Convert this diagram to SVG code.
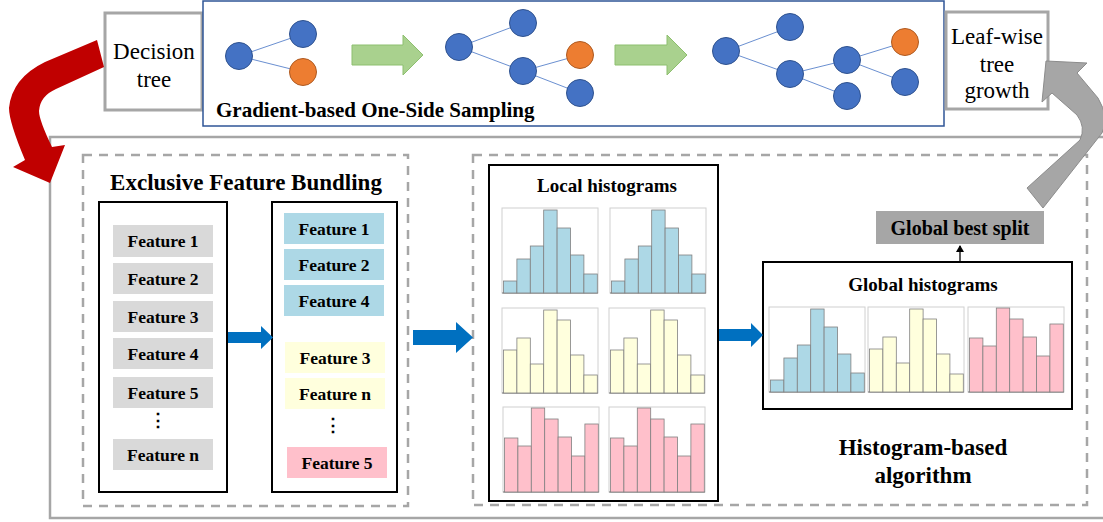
<svg xmlns="http://www.w3.org/2000/svg" xmlns:xlink="http://www.w3.org/1999/xlink" width="1103" height="522" viewBox="0 0 1103 522">
<style>
.serif{font-family:"Liberation Serif","Times New Roman",serif;fill:#000}
.b{font-weight:bold}
.graybox{fill:#fff;stroke:#A6A6A6;stroke-width:3}
.dash{fill:none;stroke:#A6A6A6;stroke-width:2.5;stroke-dasharray:9 7}
.blk{fill:#fff;stroke:#000;stroke-width:2}
.nb{fill:#4472C4;stroke:#2F528F;stroke-width:1}
.no{fill:#ED7D31;stroke:#AE5A21;stroke-width:1}
.edge{stroke:#4472C4;stroke-width:0.8}
.garrow{fill:#A9D18E;stroke:#8DBF6E;stroke-width:1}
.barrow{fill:#0070C0}
.fg{fill:#D9D9D9}
.fb{fill:#ADD8E6}
.fy{fill:#FFFFDD}
.fp{fill:#FFC0CB}
.ft{font-size:17.5px;text-anchor:middle}
.bar{stroke:#808080;stroke-width:0.8}
.pf{fill:#fff;stroke:#D0D0D0;stroke-width:1}
</style>
<defs>
<g id="frame"><rect class="pf" x="0" y="0" width="96" height="85"/><line x1="0" y1="85" x2="96" y2="85" stroke="#808080" stroke-width="1.2"/></g>
<g id="hb">
<use xlink:href="#frame"/>
<g class="bar fb">
<rect x="1.5" y="73" width="13.4" height="12"/><rect x="14.9" y="51" width="13.4" height="34"/><rect x="28.3" y="38" width="13.4" height="47"/><rect x="41.7" y="2" width="13.4" height="83"/><rect x="55.1" y="20" width="13.4" height="65"/><rect x="68.5" y="47" width="13.4" height="38"/><rect x="81.9" y="66" width="13.4" height="19"/>
</g></g>
<g id="hy">
<use xlink:href="#frame"/>
<g class="bar fy">
<rect x="1.5" y="42" width="13.4" height="43"/><rect x="14.9" y="30" width="13.4" height="55"/><rect x="28.3" y="56" width="13.4" height="29"/><rect x="41.7" y="2" width="13.4" height="83"/><rect x="55.1" y="12" width="13.4" height="73"/><rect x="68.5" y="47" width="13.4" height="38"/><rect x="81.9" y="67" width="13.4" height="18"/>
</g></g>
<g id="hp">
<use xlink:href="#frame"/>
<g class="bar fp">
<rect x="1.5" y="31" width="13.4" height="54"/><rect x="14.9" y="39" width="13.4" height="46"/><rect x="28.3" y="1" width="13.4" height="84"/><rect x="41.7" y="12" width="13.4" height="73"/><rect x="55.1" y="30" width="13.4" height="55"/><rect x="68.5" y="49" width="13.4" height="36"/><rect x="81.9" y="17" width="13.4" height="68"/>
</g></g>
<marker id="ah" markerWidth="8" markerHeight="8" refX="6" refY="4" orient="auto" markerUnits="userSpaceOnUse"><path d="M0,0 L7,4 L0,8 Z" fill="#000"/></marker>
</defs>

<rect width="1103" height="522" fill="#fff"/>

<!-- outer frame -->
<rect id="outer-frame" x="50" y="137" width="1080" height="381" fill="none" stroke="#A6A6A6" stroke-width="2.5"/>

<!-- Decision tree -->
<g id="decision-tree">
<rect class="graybox" x="105" y="13" width="97" height="97"/>
<text class="serif" x="154" y="59" font-size="23" text-anchor="middle">Decision</text>
<text class="serif" x="154" y="87" font-size="23" text-anchor="middle">tree</text>
</g>

<!-- GOSS -->
<g id="goss">
<rect x="203" y="1" width="741" height="125" fill="#fff" stroke="#2F5597" stroke-width="1.5"/>
<g class="edge">
<line x1="239" y1="56" x2="303" y2="34"/><line x1="239" y1="56" x2="303" y2="72"/>
<line x1="459" y1="47" x2="523" y2="23"/><line x1="459" y1="47" x2="523" y2="71"/><line x1="523" y1="71" x2="580" y2="55"/><line x1="523" y1="71" x2="580" y2="93"/>
<line x1="726" y1="51" x2="790" y2="27"/><line x1="726" y1="51" x2="790" y2="74"/><line x1="790" y1="74" x2="847" y2="60"/><line x1="790" y1="74" x2="847" y2="96"/><line x1="847" y1="60" x2="905" y2="42"/><line x1="847" y1="60" x2="905" y2="82"/>
</g>
<circle class="nb" cx="239" cy="56" r="13.5"/><circle class="nb" cx="303" cy="34" r="13.5"/><circle class="no" cx="303" cy="72" r="13.5"/>
<circle class="nb" cx="459" cy="47" r="13.5"/><circle class="nb" cx="523" cy="23" r="13.5"/><circle class="nb" cx="523" cy="71" r="13.5"/><circle class="no" cx="580" cy="55" r="13.5"/><circle class="nb" cx="580" cy="93" r="13.5"/>
<circle class="nb" cx="726" cy="51" r="13.5"/><circle class="nb" cx="790" cy="27" r="13.5"/><circle class="nb" cx="790" cy="74" r="13.5"/><circle class="nb" cx="847" cy="60" r="13.5"/><circle class="nb" cx="847" cy="96" r="13.5"/><circle class="no" cx="905" cy="42" r="13.5"/><circle class="nb" cx="905" cy="82" r="13.5"/>
<polygon class="garrow" points="352,45 403,45 403,35 423,55 403,75 403,65 352,65"/>
<polygon class="garrow" points="615,45 667,45 667,35 687,55 667,75 667,65 615,65"/>
<text class="serif b" x="216" y="117" font-size="21">Gradient-based One-Side Sampling</text>
</g>

<!-- Leaf-wise -->
<g id="leaf-wise">
<rect class="graybox" x="946" y="12" width="102" height="97" stroke-width="2.5"/>
<text class="serif" x="997" y="44" font-size="23" text-anchor="middle">Leaf-wise</text>
<text class="serif" x="997" y="72" font-size="23" text-anchor="middle">tree</text>
<text class="serif" x="997" y="98" font-size="23" text-anchor="middle">growth</text>
</g>

<!-- EFB -->
<g id="efb">
<rect class="dash" x="83" y="155" width="325" height="351"/>
<text class="serif b" x="246" y="190" font-size="23" text-anchor="middle">Exclusive Feature Bundling</text>
<rect class="blk" x="99" y="202" width="128" height="290"/>
<rect class="blk" x="272" y="202" width="125" height="290"/>
<rect class="fg" x="113" y="225" width="100" height="32"/><text class="serif b ft" x="163" y="247">Feature 1</text>
<rect class="fg" x="113" y="263" width="100" height="31"/><text class="serif b ft" x="163" y="285">Feature 2</text>
<rect class="fg" x="113" y="301" width="100" height="31"/><text class="serif b ft" x="163" y="323">Feature 3</text>
<rect class="fg" x="113" y="338" width="100" height="31"/><text class="serif b ft" x="163" y="360">Feature 4</text>
<rect class="fg" x="113" y="377" width="100" height="31"/><text class="serif b ft" x="163" y="399">Feature 5</text>
<text class="serif b ft" x="158" y="426">⋮</text>
<rect class="fg" x="113" y="439" width="100" height="31"/><text class="serif b ft" x="163" y="461">Feature n</text>
<rect class="fb" x="284" y="213" width="100" height="31"/><text class="serif b ft" x="334" y="235">Feature 1</text>
<rect class="fb" x="284" y="249" width="100" height="31"/><text class="serif b ft" x="334" y="271">Feature 2</text>
<rect class="fb" x="284" y="285" width="100" height="31"/><text class="serif b ft" x="334" y="307">Feature 4</text>
<rect class="fy" x="285" y="342" width="100" height="31"/><text class="serif b ft" x="335" y="364">Feature 3</text>
<rect class="fy" x="285" y="378" width="100" height="31"/><text class="serif b ft" x="335" y="400">Feature n</text>
<text class="serif b ft" x="333" y="431">⋮</text>
<rect class="fp" x="287" y="447" width="100" height="31"/><text class="serif b ft" x="337" y="469">Feature 5</text>
</g>

<!-- Histogram-based -->
<g id="histogram-based">
<rect class="dash" x="473" y="155" width="614" height="350"/>
<text class="serif b" x="923" y="455" font-size="23" text-anchor="middle">Histogram-based</text>
<text class="serif b" x="923" y="483" font-size="23" text-anchor="middle">algorithm</text>
</g>

<g id="local-histograms">
<rect class="blk" x="489" y="165" width="229" height="336"/>
<text class="serif b" x="607" y="192" font-size="19" text-anchor="middle">Local histograms</text>
<use xlink:href="#hb" x="502" y="208"/>
<use xlink:href="#hb" x="610" y="208"/>
<use xlink:href="#hy" x="502" y="308"/>
<use xlink:href="#hy" x="609" y="308"/>
<use xlink:href="#hp" x="503" y="407"/>
<use xlink:href="#hp" x="609" y="407"/>
</g>

<g id="global-histograms">
<rect class="blk" x="763" y="262" width="309" height="147"/>
<text class="serif b" x="923" y="291" font-size="19" text-anchor="middle">Global histograms</text>
<use xlink:href="#hb" x="769" y="307"/>
<use xlink:href="#hy" x="868" y="307"/>
<use xlink:href="#hp" x="968" y="307"/>
</g>

<g id="global-best-split">
<rect x="876" y="211" width="168" height="33" fill="#A6A6A6"/>
<text class="serif b" x="960" y="235" font-size="20" text-anchor="middle">Global best split</text>
</g>

<!-- connectors -->
<g id="connectors">
<line x1="960" y1="262" x2="960" y2="246" stroke="#000" stroke-width="1.3" marker-end="url(#ah)"/>
<polygon class="barrow" points="228,332 261,332 261,326 273,337.5 261,349 261,343 228,343"/>
<polygon class="barrow" points="413,330 456,330 456,322 473,337.5 456,353 456,345 413,345"/>
<polygon class="barrow" points="719,329 751,329 751,323 763,335 751,347 751,341 719,341"/>
<path d="M97,40 L45,62 Q12,78 9,108 Q9,122 25,160 L13,167 L50,183 L65,145 L52,147 Q39,120 39,111 Q40,96 56,89 L104,67 Z" fill="#C00000"/>
<path d="M1027,188 L1080,140 Q1086,127 1077,115 L1052,93 L1042,102 L1046,61 L1087,63 L1077,73 L1098,98 Q1110,118 1102,133 L1043,208 Z" fill="#A6A6A6" stroke="#8C8C8C" stroke-width="1"/>
</g>
</svg>
